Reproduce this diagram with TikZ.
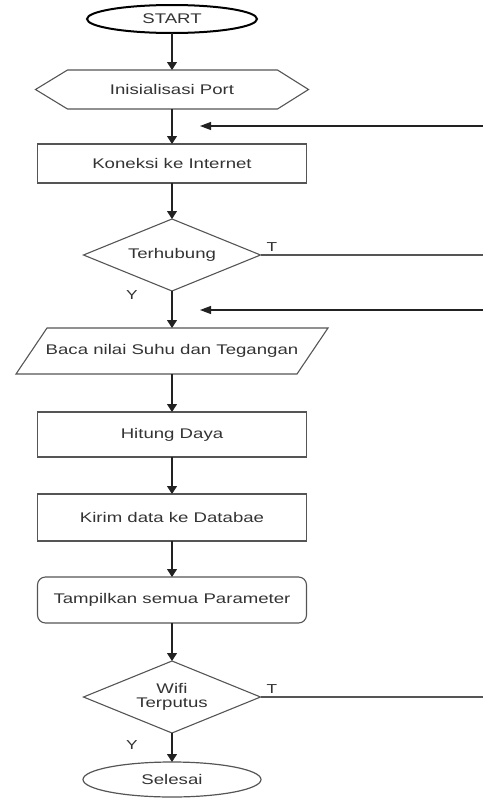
\documentclass[tikz,border=0pt]{standalone}
\usepackage{fontspec}
\setmainfont{Liberation Sans}[FakeStretch=1.33]
\usetikzlibrary{arrows.meta,shapes.geometric}
\definecolor{border}{HTML}{555555}
\definecolor{ink}{HTML}{222222}
\definecolor{txt}{HTML}{333333}
\begin{document}
\begin{tikzpicture}[x=1pt,y=-1pt,
  every node/.style={font=\fontsize{14}{14}\selectfont, text=txt, inner sep=0pt, outer sep=0pt},
  box/.style={draw=border, line width=1.1pt, minimum width=269pt},
  dec/.style={draw=border, line width=1.1pt, diamond, aspect=2.46, minimum width=177pt, minimum height=72pt, align=center},
  outline/.style={draw=border, line width=1.1pt},
  varr/.style={draw=ink, line width=1.1pt, -{Triangle[width=10pt,length=8pt]}},
  harr/.style={draw=ink, line width=1.1pt, -{Triangle[width=8pt,length=11pt]}},
  tline/.style={draw=border, line width=1.1pt},
  lbl/.style={font=\fontsize{13}{13}\selectfont}
]
\useasboundingbox (0,0) rectangle (483,798);

\node[ellipse, draw=black, line width=2pt, minimum width=170pt, minimum height=28pt] (start) at (172,19) {START};

\node[minimum width=273pt, minimum height=39pt] (init) at (172,89.5) {Inisialisasi Port};
\draw[outline] (init.west) -- ([xshift=32pt]init.north west) -- ([xshift=-31pt]init.north east)
  -- (init.east) -- ([xshift=-31pt]init.south east) -- ([xshift=32pt]init.south west) -- cycle;

\node[box, minimum height=39pt] (kon) at (172,163.5) {Koneksi ke Internet};

\node[dec] (d1) at (172,255) {Terhubung};

\node[minimum width=312pt, minimum height=46pt] (baca) at (172,351) {Baca nilai Suhu dan Tegangan};
\draw[outline] (baca.south west) -- ([xshift=31pt]baca.north west) -- (baca.north east)
  -- ([xshift=-31pt]baca.south east) -- cycle;

\node[box, minimum height=45pt] (hit) at (172,434.5) {Hitung Daya};
\node[box, minimum height=47pt] (kirim) at (172,517.5) {Kirim data ke Databae};
\node[box, rounded corners=8pt, minimum height=46pt] (tamp) at (172,600) {Tampilkan semua Parameter};

\node[dec] (d2) at (172,697) {Wifi\\Terputus};

\node[ellipse, draw=border, line width=1.2pt, minimum width=178pt, minimum height=35pt] (sel) at (172,779.5) {Selesai};

% vertical flow
\draw[varr] (start) -- (init);
\draw[varr] (init) -- (kon);
\draw[varr] (kon) -- (d1);
\draw[varr] (d1) -- (baca);
\draw[varr] (baca) -- (hit);
\draw[varr] (hit) -- (kirim);
\draw[varr] (kirim) -- (tamp);
\draw[varr] (tamp) -- (d2);
\draw[varr] (d2) -- (sel);

% incoming arrows from the right
\coordinate (r1) at (483,126);
\coordinate (l1) at (200,126);
\draw[harr] (r1) -- (l1);
\coordinate (r2) at (483,310);
\coordinate (l2) at (200,310);
\draw[harr] (r2) -- (l2);

% T branches
\coordinate (e1) at (483,255);
\draw[tline] (d1.east) -- (e1);
\coordinate (e2) at (483,697);
\draw[tline] (d2.east) -- (e2);

\node[lbl] (t1) at (272,247) {T};
\node[lbl] (y1) at (132,295) {Y};
\node[lbl] (t2) at (272,689) {T};
\node[lbl] (y2) at (132,745) {Y};
\end{tikzpicture}
\end{document}
